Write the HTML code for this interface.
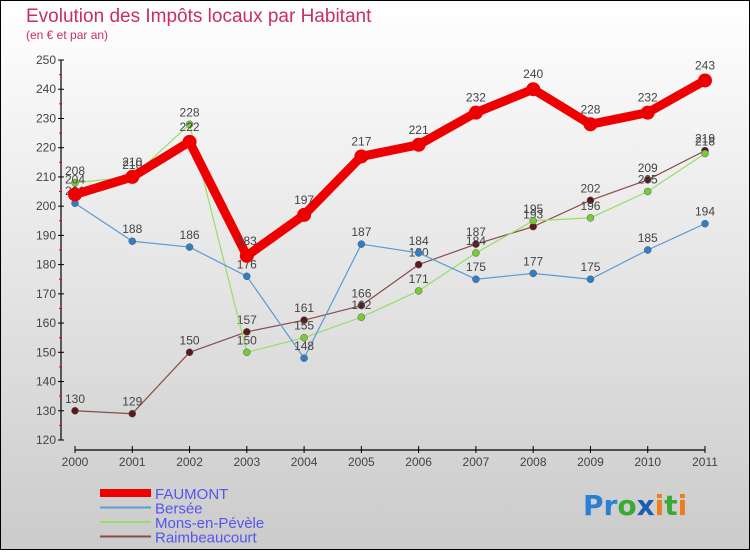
<!DOCTYPE html>
<html><head><meta charset="utf-8"><style>
html,body{margin:0;padding:0}
body{width:750px;height:550px;overflow:hidden;font-family:"Liberation Sans",sans-serif}
</style></head><body>
<svg id="chart" width="750" height="550" xmlns="http://www.w3.org/2000/svg">
<defs><linearGradient id="bg" x1="0" y1="0" x2="0" y2="1"><stop offset="0" stop-color="#ffffff"/><stop offset="1" stop-color="#cbcbcb"/></linearGradient></defs>
<rect x="0.5" y="0.5" width="749" height="549" fill="url(#bg)" stroke="#000" stroke-width="1"/>
<text x="26" y="22" font-size="19" fill="#c8305a">Evolution des Impôts locaux par Habitant</text>
<text x="26" y="39" font-size="12" fill="#c8305a">(en € et par an)</text>
<g id="axes"></g>
<g id="series"></g>
<g id="legend"></g>
<text x="583" y="515" font-size="28" font-family="DejaVu Sans, sans-serif" font-weight="bold"><tspan fill="#2a7fd4">Pr</tspan><tspan fill="#3aaa35">o</tspan><tspan fill="#1a5fb4">x</tspan><tspan fill="#f07d1a">i</tspan><tspan fill="#3aaa35">t</tspan><tspan fill="#f07d1a">i</tspan></text>
</svg>
<script>
const years=[2000,2001,2002,2003,2004,2005,2006,2007,2008,2009,2010,2011];
const faumont=[204,210,222,183,197,217,221,232,240,228,232,243];
const bersee=[201,188,186,176,148,187,184,175,177,175,185,194];
const mons=[208,210,228,150,155,162,171,184,195,196,205,218];
const raimb=[130,129,150,157,161,166,180,187,193,202,209,219];
const yTicks=[120,130,140,150,160,170,180,190,200,210,220,230,240,250];
const NS="http://www.w3.org/2000/svg";
const X=i=>75+i*(630/11);
const Y=v=>60+(250-v)*(380/130);
function el(tag,attrs,parent){const e=document.createElementNS(NS,tag);for(const k in attrs)e.setAttribute(k,attrs[k]);parent.appendChild(e);return e;}
const axes=document.getElementById('axes');
const ya=el('line',{x1:61,y1:60,x2:61,y2:440,stroke:'#000','stroke-width':1.2},axes);


yTicks.forEach((t,i)=>{
  const l=el('line',{x1:58,x2:64,y1:Y(t),y2:Y(t),stroke:'#000'},axes);
  
  
  if(i<yTicks.length-1){const m=el('line',{x1:59,x2:62,y1:Y(t+5),y2:Y(t+5),stroke:'#e00'},axes);
  
  }
  const tx=el('text',{x:56,y:Y(t)+4,'font-size':12,'text-anchor':'end',fill:'#444'},axes);
  
  
  tx.textContent=t;
});
const xa=el('line',{x1:75,y1:450,x2:705,y2:450,stroke:'#000','stroke-width':1.2},axes);


years.forEach((yr,i)=>{
  const l=el('line',{x1:X(i),x2:X(i),y1:446,y2:453,stroke:'#000'},axes);
  
  
  const tx=el('text',{x:X(i),y:466,'font-size':12,'text-anchor':'middle',fill:'#444'},axes);
  
  
  tx.textContent=yr;
});
const ser=document.getElementById('series');
const defs=[
 {name:'raimbeaucourt',data:raimb,color:'#8b4a4a',w:1.2,r:3.5,fill:'#5a1a1a'},
 {name:'mons-en-pevele',data:mons,color:'#99dd66',w:1.2,r:3.5,fill:'#77cc33'},
 {name:'bersee',data:bersee,color:'#5b9bd5',w:1.2,r:3.5,fill:'#2f7fc8'},
 {name:'faumont',data:faumont,color:'#ee0000',w:9,r:7,fill:'#ee0000'}
];
defs.forEach(s=>{
  const g=el('g',{},ser);
  
  
  const p=el('polyline',{points:s.data.map((v,i)=>X(i)+','+Y(v)).join(' '),fill:'none',stroke:s.color,'stroke-width':s.w,'stroke-linejoin':'round'},g);
  
  
  s.data.forEach((v,i)=>{
    const c=el('circle',{cx:X(i),cy:Y(v),r:s.r,fill:s.fill,stroke:s.w>2?'none':'#555','stroke-width':0.5},g);
    
    
    const t=el('text',{x:X(i),y:Y(v)-(s.w>2?11:8),'font-size':12,'text-anchor':'middle',fill:'#444'},g);
    
    
    t.textContent=v;
  });
});
const lg=document.getElementById('legend');
const items=[['FAUMONT','#ee0000',8],['Bersée','#5b9bd5',2],['Mons-en-Pévèle','#99dd66',2],['Raimbeaucourt','#8b4a4a',2]];
items.forEach((it,i)=>{
  const y=493+i*14.5;
  const l=el('line',{x1:100,x2:151,y1:y,y2:y,stroke:it[1],'stroke-width':it[2]},lg);
  
  
  const t=el('text',{x:155,y:y+6,'font-size':15,fill:'#5555ee'},lg);
  
  
  t.textContent=it[0];
});
</script>
</body></html>
